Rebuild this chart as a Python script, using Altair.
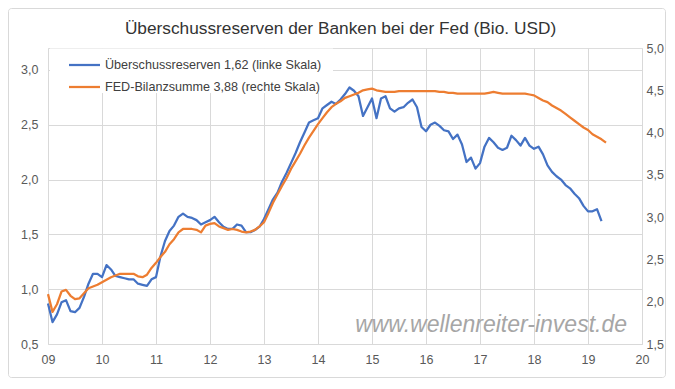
import altair as alt
import pandas as pd

# ---- data (monthly, starting January 2009) ----
start_year = 9  # 2009 -> axis label "09"
reserves = [0.87, 0.70, 0.77, 0.88, 0.90, 0.80, 0.79, 0.83, 0.93, 1.05, 1.14, 1.14,
            1.11, 1.22, 1.18, 1.12, 1.11, 1.10, 1.09, 1.09, 1.05, 1.04, 1.03, 1.09,
            1.11, 1.30, 1.44, 1.53, 1.58, 1.66, 1.69, 1.66, 1.65, 1.63, 1.59, 1.61,
            1.63, 1.66, 1.61, 1.57, 1.55, 1.55, 1.59, 1.58, 1.52, 1.52, 1.54, 1.57,
            1.64, 1.73, 1.82, 1.88, 1.98, 2.06, 2.15, 2.24, 2.34, 2.43, 2.52, 2.54,
            2.56, 2.65, 2.68, 2.71, 2.69, 2.73, 2.78, 2.84, 2.81, 2.76, 2.58, 2.66,
            2.74, 2.56, 2.74, 2.76, 2.65, 2.62, 2.65, 2.66, 2.70, 2.73, 2.66, 2.48,
            2.44, 2.50, 2.52, 2.49, 2.45, 2.44, 2.37, 2.41, 2.32, 2.16, 2.20, 2.10,
            2.15, 2.30, 2.38, 2.34, 2.29, 2.27, 2.29, 2.40, 2.36, 2.31, 2.38, 2.31,
            2.28, 2.30, 2.23, 2.13, 2.07, 2.03, 2.00, 1.95, 1.92, 1.87, 1.83, 1.76,
            1.71, 1.71, 1.73, 1.62]
balance = [2.09, 1.88, 1.97, 2.12, 2.14, 2.07, 2.03, 2.04, 2.10, 2.16, 2.18, 2.20,
           2.23, 2.26, 2.29, 2.31, 2.33, 2.33, 2.33, 2.33, 2.30, 2.29, 2.32, 2.40,
           2.46, 2.53, 2.59, 2.68, 2.74, 2.82, 2.86, 2.86, 2.86, 2.85, 2.82, 2.90,
           2.92, 2.93, 2.89, 2.87, 2.85, 2.86, 2.85, 2.83, 2.82, 2.83, 2.85, 2.89,
           2.94, 3.05, 3.17, 3.27, 3.37, 3.46, 3.57, 3.66, 3.75, 3.85, 3.94, 4.02,
           4.10, 4.17, 4.24, 4.30, 4.34, 4.37, 4.41, 4.43, 4.45, 4.47, 4.50, 4.51,
           4.52, 4.50, 4.49, 4.48, 4.48, 4.48, 4.49, 4.49, 4.49, 4.49, 4.49, 4.49,
           4.49, 4.49, 4.49, 4.48, 4.48, 4.47, 4.47, 4.46, 4.46, 4.46, 4.46, 4.46,
           4.46, 4.46, 4.47, 4.48, 4.47, 4.46, 4.46, 4.46, 4.46, 4.46, 4.46, 4.45,
           4.44, 4.41, 4.38, 4.36, 4.32, 4.29, 4.26, 4.22, 4.18, 4.14, 4.10, 4.06,
           4.03, 3.98, 3.95, 3.92, 3.88]

series_names = ["Überschussreserven 1,62 (linke Skala)",
                "FED-Bilanzsumme 3,88 (rechte Skala)"]
series_colors = ["#4472C4", "#ED7D31"]
title_text = "Überschussreserven der Banken bei der Fed (Bio. USD)"
watermark = "www.wellenreiter-invest.de"
x_ticks = list(range(9, 21))
left_ticks = [0.5, 1.0, 1.5, 2.0, 2.5, 3.0]
right_ticks = [1.5, 2.0, 2.5, 3.0, 3.5, 4.0, 4.5, 5.0]

df_r = pd.DataFrame({"t": [start_year + i / 12 for i in range(len(reserves))], "v": reserves})
df_b = pd.DataFrame({"t": [start_year + i / 12 for i in range(len(balance))], "v": balance})

W, H = 594, 296
FONT = "Liberation Sans"
comma = "replace(format(datum.value, '.1f'), '.', ',')"

x_enc = alt.X("t:Q", scale=alt.Scale(domain=[9, 20], nice=False, zero=False),
              axis=alt.Axis(values=x_ticks, title=None, grid=True, domain=False, ticks=False,
                            labelExpr="(datum.value < 10 ? '0' : '') + datum.value",
                            labelFlush=False, labelPadding=9, labelFontSize=12.5,
                            labelColor="#595959", labelFont=FONT, gridColor="#d9d9d9"))

blank = alt.Data(values=[{}])

border = alt.Chart(blank).mark_rect(fillOpacity=0, stroke="#d9d9d9", strokeWidth=1,
                                     cornerRadius=3).encode(
    x=alt.value(-39.5), x2=alt.value(W + 23.5), y=alt.value(-39.5), y2=alt.value(H + 33.5))

line_r = alt.Chart(df_r).mark_line(color=series_colors[0], strokeWidth=2.25,
                                   strokeJoin="round").encode(
    x=x_enc,
    y=alt.Y("v:Q", scale=alt.Scale(domain=[0.5, 3.2], nice=False, zero=False),
            axis=alt.Axis(orient="left", values=left_ticks, title=None, grid=True,
                          domain=False, ticks=False, labelExpr=comma, labelPadding=10,
                          labelFontSize=12.5, labelColor="#595959", labelFont=FONT,
                          gridColor="#d9d9d9")))

line_b = alt.Chart(df_b).mark_line(color=series_colors[1], strokeWidth=2.25,
                                   strokeJoin="round").encode(
    x=x_enc,
    y=alt.Y("v:Q", scale=alt.Scale(domain=[1.5, 5.0], nice=False, zero=False),
            axis=alt.Axis(orient="right", values=right_ticks, title=None, grid=False,
                          domain=False, ticks=False, labelExpr=comma, labelPadding=4,
                          labelFontSize=12.5, labelColor="#595959", labelFont=FONT)))

legend_box = alt.Chart(blank).mark_rect(fill="white").encode(
    x=alt.value(2), x2=alt.value(285), y=alt.value(0.5), y2=alt.value(45))

legend_layers = []
for k, (name, col) in enumerate(zip(series_names, series_colors)):
    yy = 17 + 22 * k
    legend_layers.append(alt.Chart(blank).mark_rule(color=col, strokeWidth=2.25).encode(
        x=alt.value(21), x2=alt.value(52), y=alt.value(yy)))
    legend_layers.append(alt.Chart(blank).mark_text(
        text=name, align="left", baseline="middle", font=FONT, fontSize=12.6,
        color="#404040").encode(x=alt.value(57), y=alt.value(yy)))

title = alt.Chart(blank).mark_text(text=title_text, align="center", baseline="middle",
                                   font=FONT, fontSize=17.3, color="#333333").encode(
    x=alt.value(292.5), y=alt.value(-19))

wm = alt.Chart(blank).mark_text(text=watermark, align="right", baseline="alphabetic",
                                font=FONT, fontSize=23, fontStyle="italic",
                                color="#a6a6a6").encode(
    x=alt.value(579), y=alt.value(284))

chart = alt.layer(border, legend_box, line_r, line_b, *legend_layers, title, wm).resolve_scale(
    y="independent"
).properties(
    width=W, height=H,
    padding={"left": 40, "top": 40, "right": 24, "bottom": 34},
    autosize=alt.AutoSizeParams(type="none"),
).configure_view(strokeWidth=0).configure(background="white")

chart.save("out.html", embed_options={"renderer": "svg", "actions": False})
